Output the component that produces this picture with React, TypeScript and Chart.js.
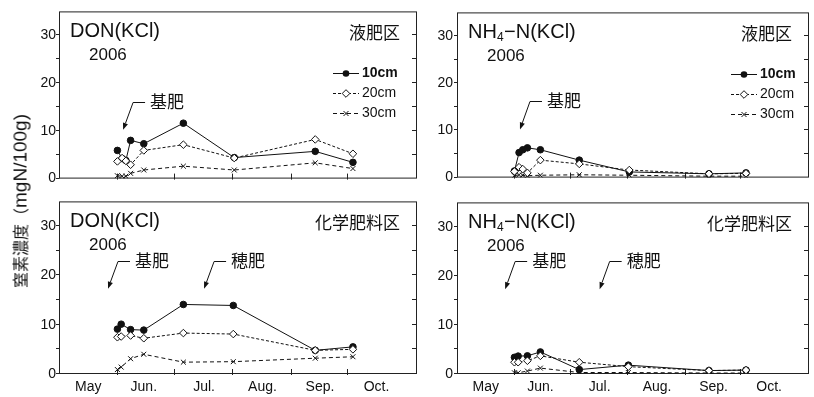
import React, { useEffect, useRef } from 'react';
import { Chart, registerables } from 'chart.js';

Chart.register(...registerables);

const FONT = 'Arial, "Liberation Sans", "Noto Sans CJK JP", sans-serif';
const INK = '#111';
const FRAME = '#222';

// ---- axis labels / ticks ----
const monthLabels = ['May', 'Jun.', 'Jul.', 'Aug.', 'Sep.', 'Oct.'];
const monthLabelDays = [15.5, 45, 77, 108, 138.5, 168.5]; // days since May 1
const monthBoundaryDays = [31, 61, 92, 123, 153];
const yTickValues = [0, 10, 20, 30];
const yMinorStep = 5;
const X_MAX = 190;
const Y_MAX = 35;

// ---- sampling dates (days since May 1) ----
const topDays = [31, 33.5, 35.5, 38, 45, 66, 93, 136, 156];
const bottomDays = [31, 33, 38, 45, 66, 92.5, 136, 156];

// ---- DON(KCl) 液肥区 ----
const donLiquid10 = [5.9, 4.2, 3.8, 8.0, 7.3, 11.6, 4.4, 5.7, 3.4];
const donLiquid20 = [3.6, 4.3, 3.7, 2.9, 5.9, 7.1, 4.3, 8.2, 5.2];
const donLiquid30 = [0.6, 0.5, 0.5, 1.1, 1.8, 2.6, 1.8, 3.3, 2.1];

// ---- NH4-N(KCl) 液肥区 ----
const nh4Liquid10 = [1.4, 5.3, 5.9, 6.3, 5.9, 3.7, 1.2, 0.8, 1.0];
const nh4Liquid20 = [1.3, 2.2, 1.8, 1.0, 3.7, 2.9, 1.6, 0.8, 0.9];
const nh4Liquid30 = [0.4, 0.6, 0.5, 0.4, 0.5, 0.6, 0.5, 0.3, 0.3];

// ---- DON(KCl) 化学肥料区 ----
const donChem10 = [9.1, 10.1, 9.0, 8.9, 14.1, 13.9, 4.8, 5.5];
const donChem20 = [7.45, 7.6, 7.8, 7.25, 8.3, 8.1, 4.8, 5.0];
const donChem30 = [0.9, 1.4, 3.1, 4.0, 2.4, 2.5, 3.2, 3.5];

// ---- NH4-N(KCl) 化学肥料区 ----
const nh4Chem10 = [3.4, 3.65, 3.7, 4.5, 0.9, 1.8, 0.7, 0.8];
const nh4Chem20 = [2.4, 2.4, 2.7, 3.7, 2.4, 1.5, 0.7, 0.8];
const nh4Chem30 = [0.25, 0.25, 0.6, 1.2, 0.3, 0.3, 0.2, 0.2];

// ---- fertilizer annotations (arrow tip in data coords) ----
const topArrowLabels = ['基肥'];
const topArrowDays = [34];
const topArrowValues = [10.2];
const bottomArrowLabels = ['基肥', '穂肥'];
const bottomArrowDays = [26, 77];
const bottomArrowValues = [17.3, 17.3];

const seriesNames = ['10cm', '20cm', '30cm'];
const yTitleCjk = '窒素濃度（';
const yTitleLatin = 'mgN/100g)';

type Panel = {
  key: string;
  left: number; top: number; width: number; height: number;
  yw: number; padTop: number; padRight: number; xh: number; yPad: number;
  showX: boolean; nh4: boolean; treatment: string; legend: boolean;
  days: number[]; s10: number[]; s20: number[]; s30: number[];
  arrowLabels: string[]; arrowDays: number[]; arrowValues: number[];
};

const panels: Panel[] = [
  { key: 'tl', left: 0, top: 0, width: 430, height: 190, yw: 59, padTop: 5, padRight: 13, xh: 5, yPad: 3,
    showX: false, nh4: false, treatment: '液肥区', legend: true,
    days: topDays, s10: donLiquid10, s20: donLiquid20, s30: donLiquid30,
    arrowLabels: topArrowLabels, arrowDays: topArrowDays, arrowValues: topArrowValues },
  { key: 'tr', left: 430, top: 0, width: 384, height: 190, yw: 27, padTop: 5, padRight: 0, xh: 5, yPad: 4,
    showX: false, nh4: true, treatment: '液肥区', legend: true,
    days: topDays, s10: nh4Liquid10, s20: nh4Liquid20, s30: nh4Liquid30,
    arrowLabels: topArrowLabels, arrowDays: topArrowDays, arrowValues: topArrowValues },
  { key: 'bl', left: 0, top: 190, width: 430, height: 207, yw: 59, padTop: 4, padRight: 13, xh: 23, yPad: 3,
    showX: true, nh4: false, treatment: '化学肥料区', legend: false,
    days: bottomDays, s10: donChem10, s20: donChem20, s30: donChem30,
    arrowLabels: bottomArrowLabels, arrowDays: bottomArrowDays, arrowValues: bottomArrowValues },
  { key: 'br', left: 430, top: 190, width: 384, height: 207, yw: 27, padTop: 4, padRight: 0, xh: 23, yPad: 4,
    showX: true, nh4: true, treatment: '化学肥料区', legend: false,
    days: bottomDays, s10: nh4Chem10, s20: nh4Chem20, s30: nh4Chem30,
    arrowLabels: bottomArrowLabels, arrowDays: bottomArrowDays, arrowValues: bottomArrowValues },
];

function marker(ctx: CanvasRenderingContext2D, kind: number, x: number, y: number) {
  ctx.save();
  ctx.setLineDash([]);
  ctx.lineWidth = 1;
  ctx.strokeStyle = INK;
  ctx.beginPath();
  if (kind === 0) {
    ctx.arc(x, y, 3.3, 0, Math.PI * 2);
    ctx.fillStyle = INK;
    ctx.fill();
  } else if (kind === 1) {
    const r = 3.8;
    ctx.moveTo(x - r, y); ctx.lineTo(x, y - r); ctx.lineTo(x + r, y); ctx.lineTo(x, y + r); ctx.closePath();
    ctx.fillStyle = '#fff';
    ctx.fill();
    ctx.stroke();
  } else {
    const r = 2.5;
    ctx.moveTo(x - r, y - r); ctx.lineTo(x + r, y + r);
    ctx.moveTo(x + r, y - r); ctx.lineTo(x - r, y + r);
    ctx.stroke();
  }
  ctx.restore();
}

const dashes = [[], [3, 2], [4, 3]];

function decorPlugin(p: Panel) {
  return {
    id: 'decor_' + p.key,
    beforeDatasetsDraw(chart: any) {
      const { ctx, chartArea } = chart;
      const { left, right, top, bottom } = chartArea;
      const xs = chart.scales.x;
      const ys = chart.scales.y;
      ctx.save();
      ctx.strokeStyle = FRAME;
      ctx.lineWidth = 1;
      ctx.setLineDash([]);
      ctx.strokeRect(left + 0.5, top + 0.5, right - left - 1, bottom - top - 1);
      ctx.beginPath();
      for (let v = 0; v < Y_MAX; v += yMinorStep) {
        const py = Math.round(ys.getPixelForValue(v)) - 0.5;
        ctx.moveTo(left - 3, py); ctx.lineTo(left + 0.5, py);
        if (v > 0) { ctx.moveTo(right - 1, py); ctx.lineTo(right - 5, py); }
      }
      for (const d of monthBoundaryDays) {
        const px = Math.round(xs.getPixelForValue(d)) + 0.5;
        ctx.moveTo(px, bottom - 5); ctx.lineTo(px, bottom + 1);
      }
      ctx.stroke();
      ctx.restore();
    },
    afterDraw(chart: any) {
      const { ctx, chartArea } = chart;
      const { left: L, right: R, top: T } = chartArea;
      const xs = chart.scales.x;
      const ys = chart.scales.y;
      ctx.save();
      ctx.fillStyle = INK;
      ctx.textAlign = 'left';
      ctx.textBaseline = 'alphabetic';
      // title
      const by = T + 26;
      if (p.nh4) {
        let x = L + 11;
        ctx.font = `20px ${FONT}`;
        ctx.fillText('NH', x, by); x += ctx.measureText('NH').width;
        ctx.font = `12px ${FONT}`;
        ctx.fillText('4', x, by + 3); x += ctx.measureText('4').width + 0.5;
        ctx.font = `20px ${FONT}`;
        ctx.fillText('−N(KCl)', x, by);
      } else {
        ctx.font = `20px ${FONT}`;
        ctx.fillText('DON(KCl)', L + 11, by);
      }
      ctx.font = `17px ${FONT}`;
      ctx.fillText('2006', L + 30, T + 49);
      // treatment
      ctx.font = `17px ${FONT}`;
      ctx.textAlign = 'right';
      ctx.textBaseline = 'middle';
      ctx.fillText(p.treatment, R - 17, T + 22.5);
      // legend
      if (p.legend) {
        const rows = [T + 62, T + 82, T + 101.5];
        for (let i = 0; i < 3; i++) {
          const y = Math.round(rows[i]) + 0.5;
          ctx.save();
          ctx.strokeStyle = INK;
          ctx.lineWidth = 1;
          ctx.setLineDash(dashes[i]);
          ctx.beginPath();
          ctx.moveTo(L + 274, y); ctx.lineTo(L + 300, y);
          ctx.stroke();
          ctx.restore();
          marker(ctx, i, L + 287, y);
          ctx.fillStyle = INK;
          ctx.textAlign = 'left';
          ctx.textBaseline = 'middle';
          ctx.font = `${i === 0 ? 'bold ' : ''}14px ${FONT}`;
          ctx.fillText(seriesNames[i], L + 303, y);
        }
      }
      // fertilizer arrows
      for (let i = 0; i < p.arrowLabels.length; i++) {
        const tx = xs.getPixelForValue(p.arrowDays[i]);
        const ty = ys.getPixelForValue(p.arrowValues[i]);
        const ex = tx + 10, ey = Math.round(ty - 28) + 0.5;
        const hx = ex + 12;
        ctx.save();
        ctx.strokeStyle = INK;
        ctx.lineWidth = 1;
        ctx.setLineDash([]);
        ctx.beginPath();
        ctx.moveTo(hx, ey); ctx.lineTo(ex, ey);
        const ang = Math.atan2(ty - ey, tx - ex);
        const headLen = 7, headW = 2.6;
        const bx = tx - Math.cos(ang) * headLen, byy = ty - Math.sin(ang) * headLen;
        ctx.lineTo(bx, byy);
        ctx.stroke();
        ctx.beginPath();
        ctx.moveTo(tx, ty);
        ctx.lineTo(bx + Math.sin(ang) * headW, byy - Math.cos(ang) * headW);
        ctx.lineTo(bx - Math.sin(ang) * headW, byy + Math.cos(ang) * headW);
        ctx.closePath();
        ctx.fillStyle = INK;
        ctx.fill();
        ctx.restore();
        ctx.fillStyle = INK;
        ctx.textAlign = 'left';
        ctx.textBaseline = 'middle';
        ctx.font = `17px ${FONT}`;
        ctx.fillText(p.arrowLabels[i], hx + 5, ey + 1);
      }
      ctx.restore();
    },
  };
}

function buildConfig(p: Panel): any {
  const series = [p.s10, p.s20, p.s30];
  const drawOrder = [1, 0, 2];
  const datasets = series.map((s, i) => ({
    label: seriesNames[i],
    data: p.days.map((d, j) => ({ x: d, y: s[j] })),
    borderColor: INK,
    backgroundColor: INK,
    borderWidth: 1,
    borderDash: dashes[i],
    pointStyle: i === 0 ? 'circle' : i === 1 ? 'rectRot' : 'crossRot',
    pointRadius: i === 0 ? 3.3 : i === 1 ? 3.8 : 3.5,
    pointBackgroundColor: i === 1 ? '#fff' : INK,
    pointBorderColor: INK,
    pointBorderWidth: 1,
    tension: 0,
    order: drawOrder[i],
  }));
  return {
    type: 'line',
    data: { datasets },
    options: {
      animation: false,
      responsive: false,
      maintainAspectRatio: false,
      devicePixelRatio: 1,
      layout: { padding: { top: p.padTop, right: p.padRight, bottom: 0, left: 0 } },
      plugins: { legend: { display: false }, tooltip: { enabled: false } },
      scales: {
        x: {
          type: 'linear',
          min: 0,
          max: X_MAX,
          afterFit: (s: any) => { s.height = p.xh; },
          afterBuildTicks: (s: any) => { s.ticks = monthLabelDays.map((v) => ({ value: v })); },
          grid: { display: false, drawTicks: false },
          border: { display: false },
          ticks: {
            display: p.showX,
            autoSkip: false,
            maxRotation: 0,
            minRotation: 0,
            padding: 5,
            color: INK,
            font: { family: FONT, size: 14 },
            callback: (_v: any, i: number) => monthLabels[i],
          },
        },
        y: {
          min: 0,
          max: Y_MAX,
          afterFit: (s: any) => { s.width = p.yw; },
          afterBuildTicks: (s: any) => { s.ticks = yTickValues.map((v) => ({ value: v })); },
          grid: { display: false, drawTicks: false },
          border: { display: false },
          ticks: {
            padding: p.yPad,
            color: INK,
            font: { family: FONT, size: 14 },
            callback: (v: any) => String(v),
          },
        },
      },
    },
    plugins: [decorPlugin(p)],
  };
}

function PanelChart({ p }: { p: Panel }) {
  const ref = useRef<HTMLCanvasElement>(null);
  useEffect(() => {
    const chart = new Chart(ref.current as HTMLCanvasElement, buildConfig(p));
    return () => chart.destroy();
  }, [p]);
  return (
    <canvas
      ref={ref}
      width={p.width}
      height={p.height}
      style={{ position: 'absolute', left: p.left, top: p.top, width: p.width, height: p.height }}
    />
  );
}

export default function App() {
  return (
    <div style={{ position: 'fixed', left: 0, top: 0, width: 814, height: 397, background: '#fff', overflow: 'hidden' }}>
      {panels.map((p) => (
        <PanelChart key={p.key} p={p} />
      ))}
      <div
        style={{
          position: 'absolute',
          left: 20,
          top: 201,
          transform: 'translate(-50%, -50%) rotate(-90deg)',
          whiteSpace: 'nowrap',
          color: INK,
          fontFamily: FONT,
          lineHeight: 1,
        }}
      >
        <span style={{ fontSize: 16 }}>{yTitleCjk}</span>
        <span style={{ fontSize: 19 }}>{yTitleLatin}</span>
      </div>
    </div>
  );
}
